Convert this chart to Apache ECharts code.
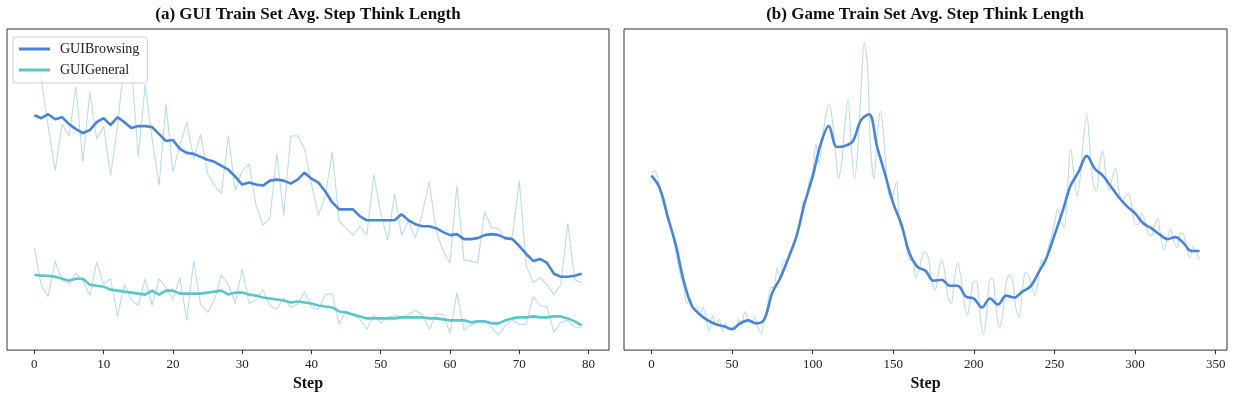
<!DOCTYPE html>
<html lang="en">
  <head>
    <meta charset="UTF-8" />
    <title>Avg. Step Think Length</title>
    <script src="https://cdn.jsdelivr.net/npm/echarts@6/dist/echarts.min.js"></script>
    <style>
      html, body { margin: 0; padding: 0; background: #fff; }
      #main { width: 1233px; height: 397px; }
    </style>
  </head>
  <body>
    <div id="main"></div>

    <script>
      // (a) GUI panel, one value per step 0..79
      const browsingRaw = [307, 273, 225, 181, 228, 216, 266, 190, 260, 213,
        226, 176, 226, 293, 287, 196, 268, 213, 166, 248,
        180, 206, 230, 193, 218, 178, 166, 158, 216, 161,
        181, 188, 146, 126, 133, 198, 136, 216, 216, 203,
        168, 136, 156, 200, 130, 123, 116, 125, 116, 177,
        138, 111, 158, 116, 130, 113, 138, 170, 120, 100,
        88, 166, 91, 90, 88, 140, 123, 123, 111, 115,
        171, 85, 68, 73, 66, 56, 66, 128, 71, 68];
      const browsingSmooth = [237, 234, 238, 233, 235, 228, 223, 219, 222, 230,
        234, 227, 235, 230, 224, 226, 226, 225, 218, 211,
        212, 203, 199, 198, 195, 192, 190, 186, 182, 175,
        167, 169, 167, 166, 171, 172, 171, 168, 172, 179,
        173, 169, 160, 149, 142, 142, 142, 135, 131, 131,
        131, 131, 131, 137, 131, 127, 125, 125, 123, 119,
        116, 117, 112, 112, 113, 116, 117, 116, 113, 112,
        105, 97, 90, 92, 88, 77, 74, 74, 75, 77];
      const generalRaw = [103, 65, 54, 90, 70, 67, 78, 70, 55, 89,
        66, 72, 34, 66, 51, 45, 72, 45, 72, 63,
        51, 73, 30, 90, 46, 38, 51, 76, 66, 47,
        82, 47, 51, 61, 45, 41, 53, 43, 46, 59,
        43, 41, 56, 57, 26, 40, 35, 31, 21, 35,
        27, 33, 35, 33, 36, 40, 36, 21, 36, 36,
        17, 58, 20, 25, 28, 30, 23, 15, 25, 30,
        26, 26, 54, 45, 44, 18, 28, 30, 23, 23];
      const generalSmooth = [76, 75, 75, 74, 72, 70, 72, 72, 66, 65,
        64, 61, 60, 59, 58, 57, 56, 60, 56, 60,
        60, 57, 57, 57, 57, 58, 59, 60, 56, 58,
        58, 56, 55, 53, 52, 51, 50, 48, 49, 48,
        47, 45, 44, 43, 39, 38, 36, 34, 32, 32,
        32, 32, 32, 33, 33, 33, 33, 32, 32, 31,
        30, 30, 30, 28, 29, 29, 27, 27, 30, 32,
        33, 33, 34, 33, 33, 34, 34, 32, 29, 25];

      // (b) Game panel, raw every 2 steps, smoothed every 5 steps (0..340)
      const gameRawStride = 2;
      const gameRaw = [179, 181, 173, 157, 153, 138, 125, 108, 91, 75,
        63, 47, 53, 41, 43, 35, 43, 31, 19, 35,
        25, 31, 19, 27, 20, 23, 21, 31, 25, 39,
        31, 27, 33, 23, 17, 31, 45, 63, 63, 83,
        71, 91, 89, 100, 106, 118, 126, 150, 152, 172,
        180, 208, 188, 213, 235, 248, 235, 203, 173, 188,
        228, 253, 203, 173, 203, 263, 310, 288, 203, 173,
        213, 241, 218, 173, 153, 158, 170, 125, 121, 105,
        91, 91, 73, 81, 95, 99, 91, 68, 60, 78,
        91, 78, 53, 47, 73, 88, 73, 48, 35, 53,
        70, 68, 33, 16, 38, 72, 71, 38, 23, 38,
        68, 76, 71, 43, 33, 58, 79, 75, 63, 55,
        71, 91, 85, 103, 113, 128, 143, 131, 123, 163,
        203, 178, 155, 175, 213, 238, 203, 168, 160, 188,
        201, 173, 161, 175, 183, 161, 150, 155, 158, 145,
        127, 127, 138, 131, 118, 115, 125, 133, 113, 101,
        113, 122, 110, 103, 118, 117, 103, 93, 105, 98,
        91];
      const gameSmoothStride = 5;
      const gameSmooth = [176, 164, 135, 107, 70, 45, 36, 30, 26, 24,
        21, 27, 30, 27, 31, 58, 73, 93, 115, 148,
        175, 208, 226, 205, 206, 211, 232, 238, 205, 177,
        148, 127, 98, 84, 80, 70, 71, 65, 65, 54,
        52, 43, 52, 46, 55, 53, 59, 64, 78, 93,
        116, 140, 166, 180, 196, 183, 176, 165, 154, 145,
        138, 128, 123, 117, 112, 114, 108, 100, 100];

      const ticksA = [0, 10, 20, 30, 40, 50, 60, 70, 80];
      const ticksB = [0, 50, 100, 150, 200, 250, 300, 350];

      const SERIF = "'Liberation Serif', 'Times New Roman', serif";
      const DARK = '#4a84d4';
      const TEAL = '#5cc5cc';
      const RAW = 'rgba(168, 212, 228, 0.8)';

      const pairs = (arr, stride) => arr.map((v, i) => [i * stride, v]);

      function rawLine(name, data, idx) {
        return {
          name: name, type: 'line', xAxisIndex: idx, yAxisIndex: idx,
          data: data, symbol: 'none', color: RAW,
          lineStyle: { width: 1.1, color: RAW }, z: 1,
        };
      }
      function smoothLine(name, data, idx, color, smooth) {
        return {
          name: name, type: 'line', xAxisIndex: idx, yAxisIndex: idx,
          data: data, symbol: 'none', color: color, smooth: smooth,
          lineStyle: { width: 2.6, color: color }, z: 3,
        };
      }
      function xAxis(idx, min, max, ticks) {
        return {
          gridIndex: idx, type: 'value', min: min, max: max,
          axisLine: { show: false },
          axisTick: { show: true, length: 4, customValues: ticks, lineStyle: { color: '#333' } },
          axisLabel: { customValues: ticks, fontFamily: SERIF, fontSize: 13, color: '#222', margin: 8 },
          splitLine: { show: false },
          name: 'Step', nameLocation: 'middle', nameGap: 25,
          nameTextStyle: { fontFamily: SERIF, fontSize: 16, fontWeight: 'bold', color: '#111' },
        };
      }
      function yAxis(idx) {
        return {
          gridIndex: idx, type: 'value', min: 0, max: 324,
          axisLine: { show: false }, axisTick: { show: false },
          axisLabel: { show: false }, splitLine: { show: false },
        };
      }

      const options = {
        animation: false,
        grid: [
          { left: 7, top: 29, width: 602, height: 324, show: true, borderColor: '#333', borderWidth: 1 },
          { left: 624, top: 29, width: 603, height: 324, show: true, borderColor: '#333', borderWidth: 1 },
        ],
        graphic: [
          { type: 'text', x: 308, y: 15, style: { text: '(a) GUI Train Set Avg. Step Think Length',
            font: 'bold 17px ' + SERIF, fill: '#111', align: 'center', verticalAlign: 'middle' } },
          { type: 'text', x: 925, y: 15, style: { text: '(b) Game Train Set Avg. Step Think Length',
            font: 'bold 17px ' + SERIF, fill: '#111', align: 'center', verticalAlign: 'middle' } },
        ],
        legend: {
          data: ['GUIBrowsing', 'GUIGeneral'],
          orient: 'vertical', left: 13, top: 37,
          icon: 'rect', itemWidth: 31, itemHeight: 3, itemGap: 5,
          padding: [4, 8, 5, 6],
          backgroundColor: 'rgba(255,255,255,0.8)',
          borderColor: '#d0d0d0', borderWidth: 1, borderRadius: 3,
          textStyle: { fontFamily: SERIF, fontSize: 14, color: '#222', lineHeight: 16, padding: [0, 0, 0, 5] },
        },
        xAxis: [xAxis(0, -3.95, 82.95, ticksA), xAxis(1, -17, 357, ticksB)],
        yAxis: [yAxis(0), yAxis(1)],
        series: [
          rawLine('GUIBrowsing raw', pairs(browsingRaw, 1), 0),
          smoothLine('GUIBrowsing', pairs(browsingSmooth, 1), 0, DARK, false),
          rawLine('GUIGeneral raw', pairs(generalRaw, 1), 0),
          smoothLine('GUIGeneral', pairs(generalSmooth, 1), 0, TEAL, false),
          Object.assign(rawLine('Game raw', pairs(gameRaw, gameRawStride), 1), { smooth: 0.3 }),
          smoothLine('Game', pairs(gameSmooth, gameSmoothStride), 1, DARK, 0.35),
        ],
      };

      const myChart = echarts.init(document.getElementById('main'));
      myChart.setOption(options);
    </script>
  </body>
</html>
